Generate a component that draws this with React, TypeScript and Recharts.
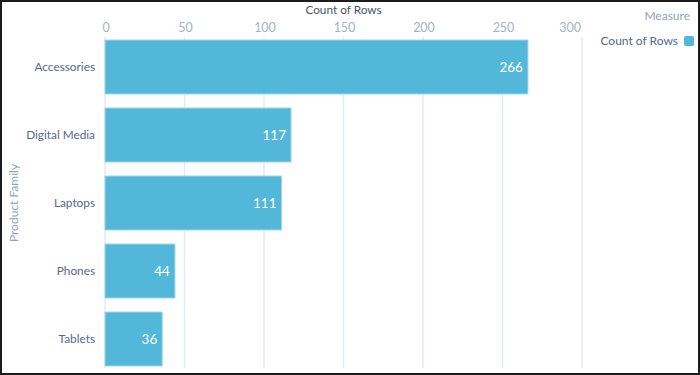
import { BarChart, Bar, XAxis, YAxis, CartesianGrid, LabelList } from 'recharts';

const categories = ['Accessories', 'Digital Media', 'Laptops', 'Phones', 'Tablets'];
const counts = [266, 117, 111, 44, 36];
const xTicks = [0, 50, 100, 150, 200, 250, 300];

const data = categories.map((name, i) => ({ name, count: counts[i] }));

const FONT = 'Lato, "Open Sans", sans-serif';

function TopTick(props: any) {
  const { x, y, payload } = props;
  const last = payload.value === xTicks[xTicks.length - 1];
  return (
    <text x={last ? x - 1 : x + 1} y={y} textAnchor={last ? 'end' : 'middle'} fill="#a3b3c6" fontSize={12.5} fontFamily={FONT}>
      {payload.value}
    </text>
  );
}

export default function App() {
  return (
    <div style={{ position: 'absolute', left: 0, top: 0, width: 696, height: 371, border: '2px solid #1c1c1c', background: '#fff', fontFamily: FONT }}>
      <style>{'body{margin:0}'}</style>
      <BarChart width={696} height={371} data={data} layout="vertical" margin={{ top: 0, right: 116, bottom: 0, left: 0 }}>
        <CartesianGrid horizontal={false} y={35} height={331} stroke="#e3e9f0" strokeWidth={1.4} />
        <XAxis
          type="number"
          orientation="top"
          domain={[0, 300]}
          ticks={xTicks}
          height={31}
          axisLine={false}
          tickLine={false}
          tickSize={0}
          tickMargin={1}
          tick={<TopTick />}
          label={{ value: 'Count of Rows', position: 'insideTop', offset: 4, fill: '#4a5568', fontSize: 11.8, fontFamily: FONT }}
        />
        <YAxis
          type="category"
          dataKey="name"
          width={103}
          axisLine={false}
          tickLine={false}
          tickSize={0}
          tickMargin={10}
          tick={{ fill: '#54698d', fontSize: 11.8, fontFamily: FONT }}
          label={{ value: 'Product Family', angle: -90, position: 'insideLeft', offset: 12, fill: '#8fa3bd', fontSize: 12, fontFamily: FONT, style: { textAnchor: 'middle' } }}
        />
        <Bar dataKey="count" fill="#52b7d8" stroke="#9fd7ec" strokeWidth={1} barSize={54} isAnimationActive={false}>
          <LabelList dataKey="count" position="insideRight" offset={5} fill="#ffffff" fontSize={13.5} fontWeight={400} fontFamily={FONT} />
        </Bar>
      </BarChart>
      <div style={{ position: 'absolute', right: 8, top: 7, fontSize: 12, color: '#8fa3bd', lineHeight: '14px' }}>Measure</div>
      <div style={{ position: 'absolute', right: 4, top: 31, display: 'flex', alignItems: 'center', fontSize: 12, color: '#54698d', lineHeight: '16px' }}>
        <span>Count of Rows</span>
        <span style={{ display: 'inline-block', width: 10, height: 10, borderRadius: 2, background: '#52b7d8', marginLeft: 6 }} />
      </div>
    </div>
  );
}
